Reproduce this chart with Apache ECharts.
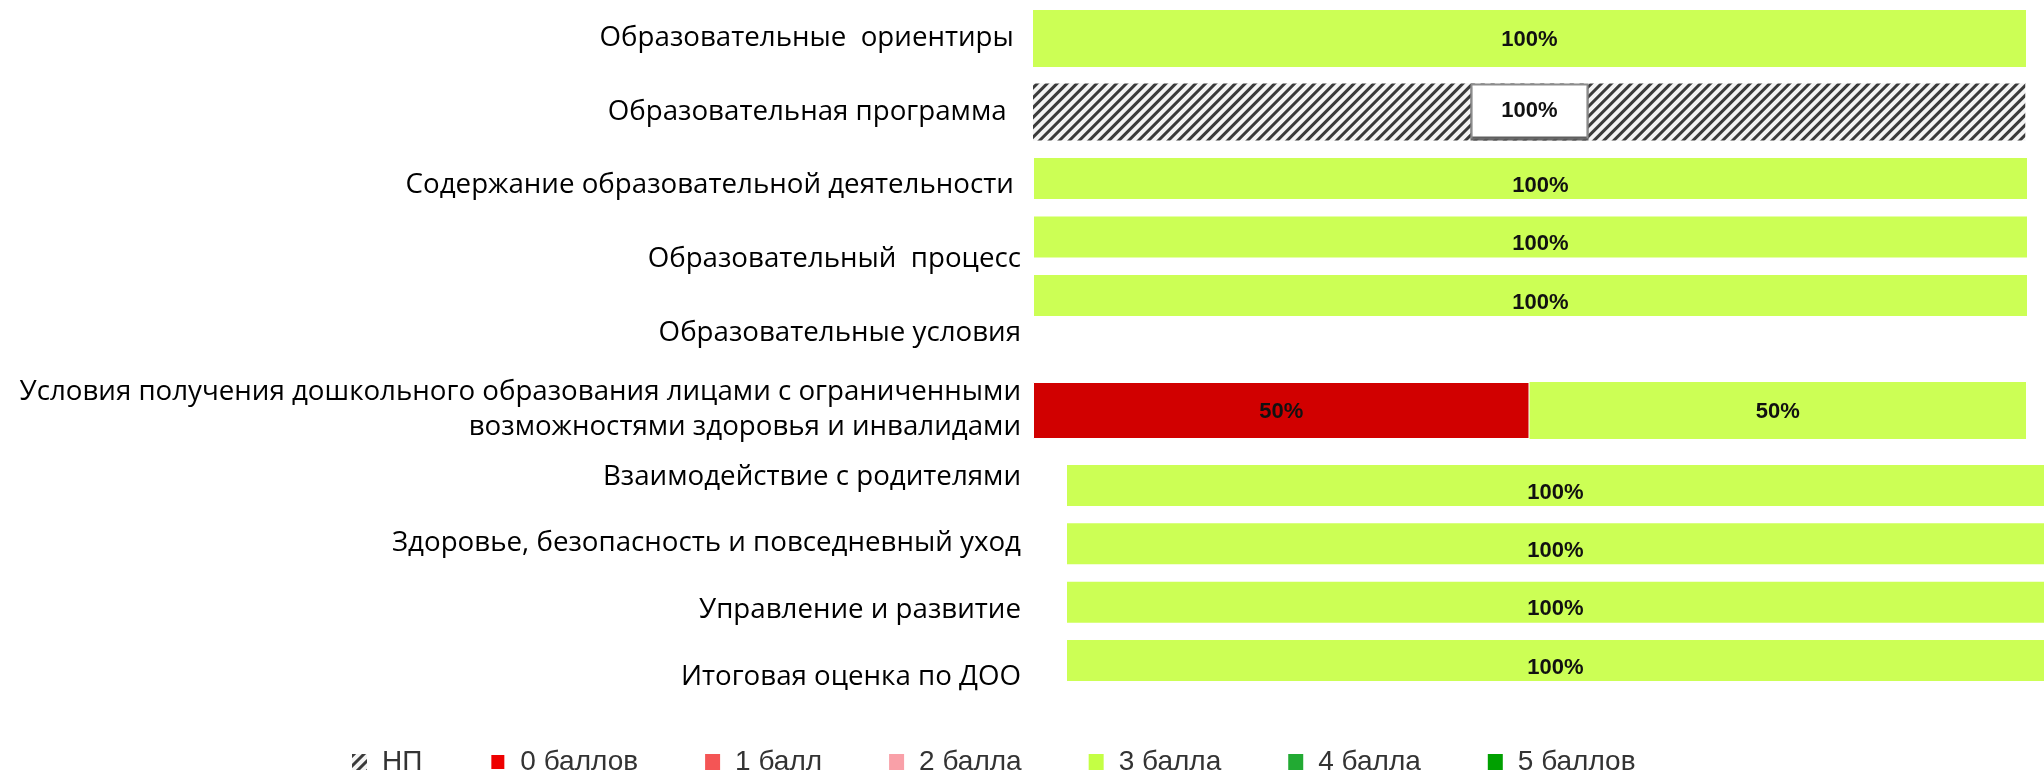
<!DOCTYPE html>
<html><head><meta charset="utf-8">
<script src="https://cdn.jsdelivr.net/npm/echarts@6/dist/echarts.min.js"></script>
<style>html,body{margin:0;padding:0;background:#fff}#chart{width:2044px;height:773px}</style>
</head><body><div id="chart"></div>
<script>
// ---- data ----
const categories = [
  'Образовательные  ориентиры ',
  'Образовательная программа  ',
  'Содержание образовательной деятельности ',
  'Образовательный  процесс',
  'Образовательные условия',
  'Условия получения дошкольного образования лицами с ограниченными\nвозможностями здоровья и инвалидами',
  'Взаимодействие с родителями',
  'Здоровье, безопасность и повседневный уход',
  'Управление и развитие',
  'Итоговая оценка по ДОО'
];
const seriesNames = ['НП', '0 баллов', '1 балл', '2 балла', '3 балла', '4 балла', '5 баллов'];
const npValues = [0, 100, 0, 0, 0, 0, 0, 0, 0, 0];
const score0 = [0, 0, 0, 0, 0, 50, 0, 0, 0, 0];
const score1 = [0, 0, 0, 0, 0, 0, 0, 0, 0, 0];
const score2 = [0, 0, 0, 0, 0, 0, 0, 0, 0, 0];
const score3 = [100, 0, 100, 100, 100, 50, 100, 100, 100, 100];
const score4 = [0, 0, 0, 0, 0, 0, 0, 0, 0, 0];
const score5 = [0, 0, 0, 0, 0, 0, 0, 0, 0, 0];
const seriesValues = [npValues, score0, score1, score2, score3, score4, score5];

// ---- styles / layout ----
const barColors = ['#ffffff', '#d10000', '#f45b5b', '#f7a1a6', '#ccff55', '#22aa33', '#009e00'];
const legendColors = ['#ffffff', '#ee0000', '#f45555', '#f9a0a8', '#c4ff44', '#22aa33', '#00a000'];
const barGroups = [
  { rows: [0, 1], left: 1033, top: 1.75, width: 993, height: 147, barWidth: 57, offset: [0, 1] },
  { rows: [2, 3, 4], left: 1034, top: 149.25, width: 993, height: 175.5, barWidth: 41, offset: [10, 7] },
  { rows: [5], left: 1033, top: 382, width: 993, height: 57, barWidth: 57, offset: [0, 1] },
  { rows: [6, 7, 8, 9], left: 1067, top: 456.33, width: 996, height: 233.33, barWidth: 41, offset: [0, 7] }
];
const labelGroups = [
  { rows: [0, 1, 2, 3, 4], top: 1, height: 369 },
  { rows: [5, 6, 7, 8, 9], top: 376.6, height: 333.75 }
];
const labelFont = 'Open Sans';
const grid = [], xAxis = [], yAxis = [], series = [];

barGroups.forEach((g, gi) => {
  grid.push({ left: g.left, top: g.top, width: g.width, height: g.height });
  xAxis.push({ type: 'value', gridIndex: gi, min: 0, max: 100, show: false });
  yAxis.push({ type: 'category', gridIndex: gi, inverse: true, show: false,
    data: g.rows.map(r => categories[r]) });
  seriesNames.forEach((name, si) => {
    const isNP = si === 0;
    const itemStyle = { color: barColors[si] };
    if (isNP) {
      itemStyle.decal = { symbol: 'rect', symbolSize: 1, dashArrayX: [1, 0], dashArrayY: [2.6, 3.4],
        rotation: -Math.PI / 4, color: '#3a3a3a', backgroundColor: '#f4f4f4' };
    }
    if (si === 1) { itemStyle.borderColor = '#ffffff'; itemStyle.borderWidth = 1; }
    const label = {
      position: 'inside', formatter: p => p.value + '%', color: '#111',
      fontFamily: 'Liberation Sans', fontWeight: 'bold', fontSize: 22,
      offset: g.offset
    };
    if (isNP) {
      Object.assign(label, { backgroundColor: '#ffffff', borderColor: '#8c8c8c', borderWidth: 2,
        width: 114, height: 51, lineHeight: 51, align: 'center', padding: 0, offset: [0, -1],
        shadowColor: 'rgba(90,90,90,0.9)', shadowOffsetY: 2, shadowBlur: 0 });
    }
    series.push({
      name, type: 'bar', stack: 'g' + gi, xAxisIndex: gi, yAxisIndex: gi,
      barWidth: g.barWidth, itemStyle, label, silent: true,
      data: g.rows.map(r => ({ value: seriesValues[si][r], label: { show: seriesValues[si][r] > 0 } }))
    });
  });
});

labelGroups.forEach((g) => {
  const gi = grid.length;
  grid.push({ left: 1021, top: g.top, width: 10, height: g.height });
  xAxis.push({ type: 'value', gridIndex: gi, min: 0, max: 1, show: false });
  yAxis.push({ type: 'category', gridIndex: gi, inverse: true,
    data: g.rows.map(r => categories[r]),
    axisLine: { show: false }, axisTick: { show: false }, splitLine: { show: false },
    axisLabel: { margin: 0, color: '#000', fontFamily: labelFont, fontSize: 27.7, lineHeight: 35,
      align: 'right' } });
});

const chart = echarts.init(document.getElementById('chart'), null, { renderer: 'canvas' });
chart.setOption({
  animation: false,
  backgroundColor: '#ffffff',
  grid, xAxis, yAxis, series,
  legend: {
    left: 347, top: 743, itemWidth: 15, itemHeight: 16, itemGap: 67, icon: 'rect',
    textStyle: { fontFamily: 'Liberation Sans', fontSize: 28, color: '#333', padding: [0, 0, 0, 10] },
    data: seriesNames.map((n, i) => ({ name: n, itemStyle: { color: legendColors[i] } }))
  }
});
</script>
</body></html>
